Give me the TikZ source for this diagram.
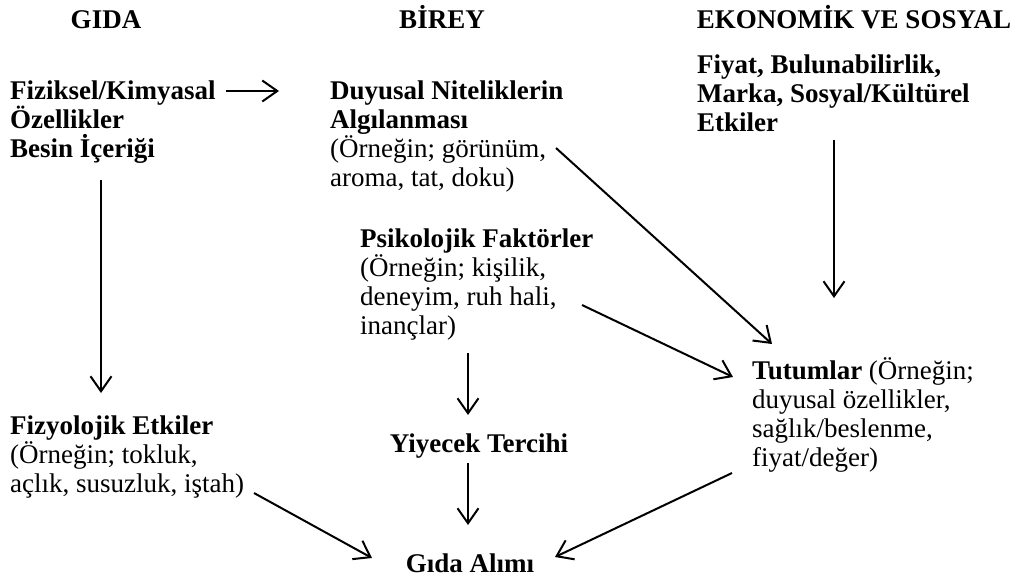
\documentclass[tikz,border=0pt]{standalone}
\usepackage{fontspec}
\setmainfont{Liberation Serif}
\usetikzlibrary{arrows.meta}
\begin{document}
\begin{tikzpicture}[x=1pt,y=-1pt,
  txt/.style={inner sep=0pt, align=left, font=\fontsize{27}{29}\selectfont},
  hd/.style={inner sep=0pt, font=\fontsize{27}{29}\selectfont\bfseries},
  arr/.style={draw, line width=2pt, -{Straight Barb[length=15pt,width=21pt,line width=2pt]}}]
\useasboundingbox (0,0) rectangle (1019,581);
% headers
\node[hd, anchor=base] (h1) at (106,28) {GIDA};
\node[hd, anchor=base] (h2) at (442,28) {BİREY};
\node[hd, anchor=base] (h3) at (854,28) {EKONOMİK VE SOSYAL};
% blocks
\node[txt, anchor=north west] (fiz) at (10,81) {\textbf{Fiziksel/Kimyasal}\\\textbf{Özellikler}\\\textbf{Besin İçeriği}};
\node[txt, anchor=north west] (duy) at (330,81) {\textbf{Duyusal Niteliklerin}\\\textbf{Algılanması}\\(Örneğin; görünüm,\\aroma, tat, doku)};
\node[txt, anchor=north west] (fiy) at (697,55) {\textbf{Fiyat, Bulunabilirlik,}\\\textbf{Marka, Sosyal/Kültürel}\\\textbf{Etkiler}};
\node[txt, anchor=north west] (psi) at (360,229) {\textbf{Psikolojik Faktörler}\\(Örneğin; kişilik,\\deneyim, ruh hali,\\inançlar)};
\node[txt, anchor=north west] (fzy) at (10,416) {\textbf{Fizyolojik Etkiler}\\(Örneğin; tokluk,\\açlık, susuzluk, iştah)};
\node[txt, anchor=north west] (tut) at (752,357) {\textbf{Tutumlar} (Örneğin;\\duyusal özellikler,\\sağlık/beslenme,\\fiyat/değer)};
\node[hd, anchor=base] (yiy) at (479,452) {Yiyecek Tercihi};
\node[hd, anchor=base] (gid) at (470,572) {Gıda Alımı};
% connector end points
\coordinate (a1s) at (226,91);  \coordinate (a1e) at (279,91);
\coordinate (a2s) at (101,180); \coordinate (a2e) at (101,393);
\coordinate (a3s) at (834,140); \coordinate (a3e) at (834,298);
\coordinate (a4s) at (556,148); \coordinate (a4e) at (772,344);
\coordinate (a5s) at (582,305); \coordinate (a5e) at (733,377);
\coordinate (a6s) at (468,353); \coordinate (a6e) at (468,415);
\coordinate (a7s) at (468,463); \coordinate (a7e) at (468,525);
\coordinate (a8s) at (254,493); \coordinate (a8e) at (372,558);
\coordinate (a9s) at (732,473); \coordinate (a9e) at (555,557);
\draw[arr] (a1s) -- (a1e);
\draw[arr] (a2s) -- (a2e);
\draw[arr] (a3s) -- (a3e);
\draw[arr] (a4s) -- (a4e);
\draw[arr] (a5s) -- (a5e);
\draw[arr] (a6s) -- (a6e);
\draw[arr] (a7s) -- (a7e);
\draw[arr] (a8s) -- (a8e);
\draw[arr] (a9s) -- (a9e);
\end{tikzpicture}
\end{document}
